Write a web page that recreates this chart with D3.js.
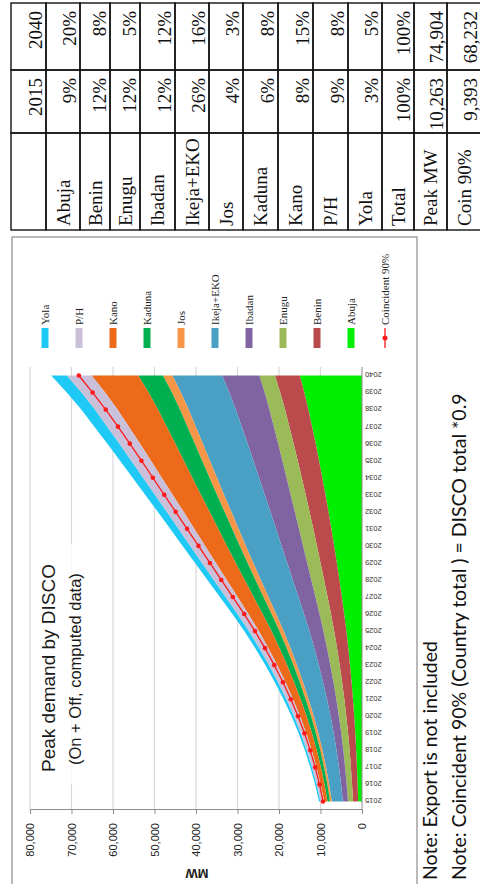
<!DOCTYPE html>
<html><head><meta charset="utf-8">
<script src="https://cdn.jsdelivr.net/npm/d3@7"></script>
<style>html,body{margin:0;padding:0;background:#fff;overflow:hidden}svg{display:block}</style>
</head><body>
<svg id="c" width="480" height="884"></svg>
<script>
// ---------- data ----------
const years = [2015,2016,2017,2018,2019,2020,2021,2022,2023,2024,2025,2026,2027,2028,2029,2030,2031,2032,2033,2034,2035,2036,2037,2038,2039,2040];
const seriesNames = ["Abuja","Benin","Enugu","Ibadan","Ikeja+EKO","Jos","Kaduna","Kano","P/H","Yola"];
const abuja  = [920,1060,1220,1410,1630,1890,2180,2520,2890,3310,3780,4300,4860,5450,6070,6720,7390,8080,8820,9570,10360,11170,12030,12930,13910,14980];
const benin  = [1230,1330,1440,1570,1720,1890,2070,2270,2480,2700,2930,3180,3430,3680,3910,4130,4350,4550,4750,4940,5120,5290,5460,5620,5800,5990];
const enugu  = [1230,1310,1410,1520,1650,1790,1940,2090,2250,2420,2590,2770,2940,3100,3240,3360,3460,3550,3630,3680,3720,3750,3760,3760,3750,3750];
const ibadan = [1230,1340,1480,1640,1820,2020,2250,2500,2770,3070,3380,3730,4090,4450,4810,5170,5530,5890,6250,6620,6980,7350,7730,8110,8530,8990];
const ikeja  = [2670,2870,3110,3390,3700,4040,4430,4840,5270,5720,6200,6710,7220,7710,8170,8610,9030,9420,9800,10150,10480,10780,11080,11360,11660,11980];
const jos    = [410,440,480,530,580,640,710,780,850,930,1020,1110,1200,1290,1380,1460,1550,1630,1710,1790,1860,1940,2010,2080,2160,2250];
const kaduna = [620,680,760,850,960,1080,1220,1370,1530,1720,1920,2140,2370,2610,2850,3100,3350,3610,3880,4150,4420,4700,5000,5300,5630,5990];
const kano   = [820,930,1060,1210,1380,1580,1820,2080,2370,2690,3050,3440,3870,4310,4770,5250,5750,6260,6790,7350,7920,8500,9120,9760,10470,11240];
const ph     = [920,1000,1100,1210,1340,1480,1640,1820,2010,2210,2430,2660,2900,3140,3380,3620,3850,4080,4310,4540,4770,5000,5230,5460,5720,5990];
const yola   = [310,340,390,440,500,570,650,740,840,950,1070,1200,1350,1500,1650,1810,1970,2140,2310,2490,2680,2870,3070,3270,3500,3750];
const coin   = [9393,10240,11270,12470,13850,15410,17150,19050,21130,23380,25800,28380,31130,33900,36650,39400,42150,44900,47650,50400,53150,55950,58800,61750,64900,68232];
const valueTicks = [0,10000,20000,30000,40000,50000,60000,70000,80000];

const tableHeader = ["", "2015", "2040"];
const tableNames = ["Abuja","Benin","Enugu","Ibadan","Ikeja+EKO","Jos","Kaduna","Kano","P/H","Yola","Total","Peak MW","Coin  90%"];
const col2015 = ["9%","12%","12%","12%","26%","4%","6%","8%","9%","3%","100%","10,263","9,393"];
const col2040 = ["20%","8%","5%","12%","16%","3%","8%","15%","8%","5%","100%","74,904","68,232"];

// ---------- styles ----------
const colors = ["#00ee00","#bb4a4c","#9bbb59","#8064a2","#4aa0c4","#f79646","#00b050","#ec6a1a","#cbc0da","#1fc9f5"];
const serif = "'Liberation Serif','Times New Roman',serif";
const sans = "'Liberation Sans',Arial,sans-serif";

// ---------- build ----------
const seriesData = [abuja,benin,enugu,ibadan,ikeja,jos,kaduna,kano,ph,yola];
const rows = years.map((yr,i)=>{ const o={year:yr}; seriesNames.forEach((n,k)=>o[n]=seriesData[k][i]); return o; });
const stack = d3.stack().keys(seriesNames)(rows);

const svg = d3.select("#c");
svg.append("rect").attr("width",480).attr("height",884).attr("fill","#fff");
// whole page drawn in landscape coordinates (884 x 480) and turned
const g = svg.append("g").attr("transform","translate(0,884) rotate(-90)");

// chart frame
g.append("rect").attr("x",-1).attr("y",12).attr("width",648).attr("height",405)
  .attr("fill","#fff").attr("stroke","#8c8c8c").attr("stroke-width",1.2);

const x = d3.scalePoint().domain(years).range([74,517]).padding(0.5);
const y = d3.scaleLinear().domain([0,80000]).range([362,30]);

// gridlines
g.append("g").selectAll("line").data(valueTicks.filter(v=>v>0)).join("line")
  .attr("x1",74).attr("x2",517).attr("y1",d=>y(d)).attr("y2",d=>y(d))
  .attr("stroke","#d9d9d9").attr("stroke-width",1.2);

// title box
g.append("rect").attr("x",100).attr("y",34).attr("width",240).attr("height",54)
  .attr("fill","#fff").attr("opacity",0.75);
g.append("text").attr("x",112).attr("y",55).attr("font-family",sans).attr("font-size",19)
  .attr("fill","#1a1a1a").text("Peak demand by DISCO");
g.append("text").attr("x",119).attr("y",81).attr("font-family",sans).attr("font-size",16.5)
  .attr("fill","#1a1a1a").text("(On + Off, computed data)");

// areas
const area = d3.area().x(d=>x(d.data.year)).y0(d=>y(d[0])).y1(d=>y(d[1]));
g.append("g").selectAll("path").data(stack).join("path")
  .attr("d",area).attr("fill",(d,i)=>colors[i]);

// coincident line
const line = d3.line().x((d,i)=>x(years[i])).y(d=>y(d));
g.append("path").attr("d",line(coin)).attr("fill","none").attr("stroke","#ff1a1a").attr("stroke-width",1.3);
g.append("g").selectAll("circle").data(coin).join("circle")
  .attr("cx",(d,i)=>x(years[i])).attr("cy",d=>y(d)).attr("r",2.3).attr("fill","#ff1a1a");

// value axis
const yAxis = d3.axisLeft(y).tickValues(valueTicks).tickFormat(d3.format(",")).tickSize(4).tickPadding(9);
const ya = g.append("g").attr("transform","translate(74,0)").call(yAxis);
ya.select(".domain").attr("stroke","#8c8c8c");
ya.selectAll(".tick line").attr("stroke","#8c8c8c");
ya.selectAll("text").attr("font-family",sans).attr("font-size",11).attr("fill","#222");

// category axis
const xAxis = d3.axisBottom(x).tickSize(0).tickPadding(3);
const xa = g.append("g").attr("transform","translate(0,362)").call(xAxis);
xa.select(".domain").attr("stroke","#8c8c8c").attr("d","M74,0H517");
xa.selectAll("text").attr("font-family",sans).attr("font-size",7.5).attr("fill","#333")
  .attr("text-anchor","end").attr("transform","rotate(-90)").attr("x",-3).attr("y",0).attr("dy","0.35em");

// axis title
g.append("text").attr("transform","translate(15,197) rotate(-90)").attr("text-anchor","middle")
  .attr("font-family",sans).attr("font-weight","bold").attr("font-size",13).attr("fill","#222").text("MW");

// legend
const legendNames = seriesNames.slice().reverse();
const legendColors = colors.slice().reverse();
const lg = g.append("g");
legendNames.forEach((n,i)=>{
  const cy = 45 + i*34;
  lg.append("rect").attr("x",536).attr("y",cy-3.5).attr("width",20).attr("height",7).attr("fill",legendColors[i]);
  lg.append("text").attr("x",559).attr("y",cy).attr("dy","0.35em").attr("font-family",serif)
    .attr("font-size",11).attr("fill","#222").text(n);
});
{
  const cy = 45 + legendNames.length*34;
  lg.append("line").attr("x1",536).attr("x2",556).attr("y1",cy).attr("y2",cy).attr("stroke","#ff1a1a").attr("stroke-width",1.3);
  lg.append("circle").attr("cx",546).attr("cy",cy).attr("r",2.5).attr("fill","#ff1a1a");
  lg.append("text").attr("x",559).attr("y",cy).attr("dy","0.35em").attr("font-family",serif)
    .attr("font-size",11).attr("fill","#222").text("Coincident 90%");
}

// table
const colX = [654,751,814,881];
const rowY = [11,46,80,110,140,175,209,243,278,313,348,382,414,447,481];
const tg = g.append("g");
const tableRows = [tableHeader].concat(tableNames.map((n,i)=>[n,col2015[i],col2040[i]]));
tableRows.forEach((r,ri)=>{
  const y0 = rowY[ri], y1 = rowY[ri+1];
  r.forEach((txt,ci)=>{
    tg.append("rect").attr("x",colX[ci]).attr("y",y0).attr("width",colX[ci+1]-colX[ci]).attr("height",y1-y0)
      .attr("fill","none").attr("stroke","#111").attr("stroke-width",1.4);
    if(!txt) return;
    const t = tg.append("text").attr("font-family",serif).attr("font-size",19).attr("fill","#111").text(txt);
    if(ci===0){ t.attr("x",colX[0]+4).attr("y",(y0+y1)/2).attr("dy","0.35em"); }
    else { t.attr("x",colX[ci+1]-8).attr("y",y1-4).attr("text-anchor","end"); }
  });
});

// notes
g.append("text").attr("x",4).attr("y",437).attr("font-family","Lato,'Open Sans',sans-serif").attr("font-size",19.5)
  .attr("fill","#111").text("Note: Export is not included");
g.append("text").attr("x",4).attr("y",466).attr("font-family","Lato,'Open Sans',sans-serif").attr("font-size",19.5)
  .attr("fill","#111").text("Note: Coincident 90% (Country total ) = DISCO total *0.9");
</script>
</body></html>
